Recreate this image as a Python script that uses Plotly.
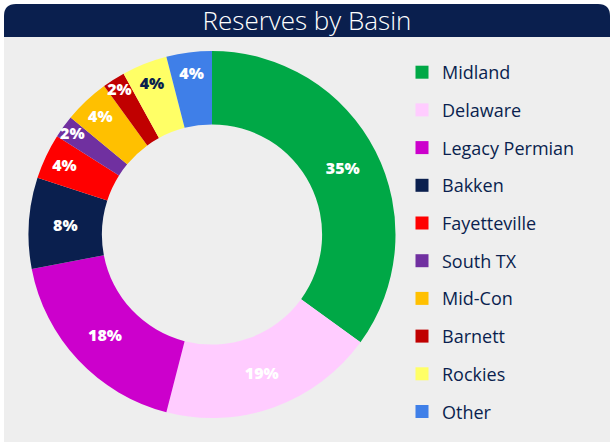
import plotly.graph_objects as go

# ---- data ----
basins = ["Midland", "Delaware", "Legacy Permian", "Bakken", "Fayetteville",
          "South TX", "Mid-Con", "Barnett", "Rockies", "Other"]
shares = [35, 19, 18, 8, 4, 2, 4, 2, 4, 4]
colors = ["#00A846", "#FFCCFF", "#CC00CC", "#0A1F4E", "#FF0000",
          "#7030A0", "#FFC000", "#C00000", "#FFFF66", "#3F7FE8"]
label_colors = ["white"] * 8 + ["#0A1F4E", "white"]

W, H = 614, 442
NAVY = "#0A1F4E"
PANEL = "#EEEEEE"
FONT = "Open Sans"


def px(x):
    return x / W


def py(y):
    return 1 - y / H


fig = go.Figure()

fig.add_trace(go.Pie(
    labels=basins,
    values=shares,
    sort=False,
    direction="clockwise",
    rotation=0,
    hole=0.6,
    marker=dict(colors=colors, line=dict(width=0)),
    textinfo="percent",
    textposition="inside",
    insidetextorientation="horizontal",
    textfont=dict(family=FONT, size=16, color=label_colors, weight=800),
    domain=dict(x=[px(28), px(396)], y=[py(418), py(51)]),
    showlegend=False,
))

# legend entries
for i, (b, c) in enumerate(zip(basins, colors)):
    fig.add_trace(go.Scatter(
        x=[None], y=[None], mode="markers", name=b,
        marker=dict(symbol="square", size=13, color=c),
        legendgroup=f"g{i}", showlegend=True,
    ))

# title bar with rounded top corners
r = 12
x0, x1, y0, y1 = 4, 610, 4, 37
path = (f"M {px(x0)},{py(y1)} L {px(x0)},{py(y0 + r)} "
        f"Q {px(x0)},{py(y0)} {px(x0 + r)},{py(y0)} "
        f"L {px(x1 - r)},{py(y0)} Q {px(x1)},{py(y0)} {px(x1)},{py(y0 + r)} "
        f"L {px(x1)},{py(y1)} Z")

fig.update_layout(
    width=W, height=H,
    margin=dict(l=0, r=0, t=0, b=0),
    paper_bgcolor="white",
    plot_bgcolor="rgba(0,0,0,0)",
    xaxis=dict(visible=False),
    yaxis=dict(visible=False),
    shapes=[
        dict(type="rect", xref="paper", yref="paper", layer="below",
             x0=px(4), x1=px(610), y0=0, y1=py(30),
             fillcolor=PANEL, line=dict(width=0)),
        dict(type="path", xref="paper", yref="paper", layer="below",
             path=path, fillcolor=NAVY, line=dict(width=0)),
    ],
    title=dict(text="Reserves by Basin", x=0.5, xanchor="center",
               y=py(20.5), yanchor="middle",
               font=dict(family=FONT, size=26, color="white", weight=300)),
    legend=dict(x=px(402), xanchor="left", y=py(54), yanchor="top",
                font=dict(family=FONT, size=18, color=NAVY),
                tracegroupgap=11.3, bgcolor="rgba(0,0,0,0)"),
    uniformtext=dict(minsize=16, mode="show"),
)

fig.write_html("out.html",
               config={"displayModeBar": False},
               post_script="document.body.style.margin='0';"
                           "document.body.style.overflow='hidden';")
